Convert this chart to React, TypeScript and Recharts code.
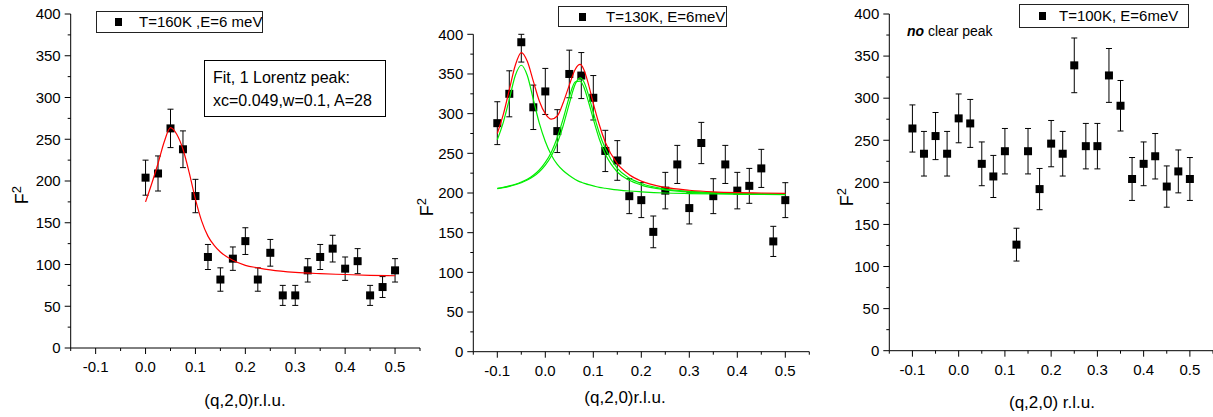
import { ComposedChart, Scatter, ErrorBar, XAxis, YAxis, Legend } from 'recharts';

const FONT = 'Arial, "Liberation Sans", Helvetica, sans-serif';

// T=160K, E=6 meV
const q160 = [0, 0.025, 0.05, 0.075, 0.1, 0.125, 0.15, 0.175, 0.2, 0.225, 0.25, 0.275, 0.3, 0.325, 0.35, 0.375, 0.4, 0.425, 0.45, 0.475, 0.5];
const f160 = [204, 209, 263, 238, 182, 109, 82, 107, 128, 82, 114, 63, 63, 93, 109, 119, 95, 104, 63, 73, 93];
const err160 = [21, 21, 23, 22, 20, 15, 14, 14, 16, 14, 16, 12, 12, 14, 15, 16, 14, 15, 12, 12.5, 14];
const fitQ160 = [0, 0.0125, 0.025, 0.0375, 0.05, 0.0625, 0.075, 0.0875, 0.1, 0.1125, 0.125, 0.1375, 0.15, 0.175, 0.2, 0.225, 0.25, 0.3, 0.35, 0.4, 0.45, 0.5];
const fit160 = [175, 197, 221, 247, 264, 256, 238, 210, 178, 152, 134, 123, 115, 105, 99, 96, 93.5, 90.5, 89, 88, 87, 86.5];

// T=130K, E=6meV
const q130 = [-0.1, -0.075, -0.05, -0.025, 0, 0.025, 0.05, 0.075, 0.1, 0.125, 0.15, 0.175, 0.2, 0.225, 0.25, 0.275, 0.3, 0.325, 0.35, 0.375, 0.4, 0.425, 0.45, 0.475, 0.5];
const f130 = [288, 325, 390, 308, 328, 278, 350, 348, 320, 253, 241, 196, 191, 151, 203, 236, 181, 263, 196, 236, 203, 209, 231, 139, 191];
const err130: (number | [number, number])[] = [27, 29, [25, 10], 28, 29, 27, 30, 29, 28, 26, 25, 22, 22, 20, 23, 24, 20, 26, 22, 24, 23, 22, 24, 19, 22];
const fitQ130 = [-0.1, -0.0875, -0.075, -0.0625, -0.05, -0.0375, -0.025, -0.0125, 0, 0.0125, 0.025, 0.0375, 0.05, 0.0625, 0.0725, 0.08, 0.09, 0.1, 0.1125, 0.125, 0.15, 0.175, 0.2, 0.25, 0.3, 0.35, 0.4, 0.45, 0.5];
const fitSum130 = [275, 299, 330, 361, 377, 366, 341, 316, 300, 293, 297, 314, 336, 356, 362, 356, 337, 313, 286, 264, 237, 223, 215, 207, 203.5, 201.5, 200.5, 200, 199.5];
const peakA130 = [267, 289, 318, 348, 361, 348, 318, 288, 265, 248, 236, 228, 222, 217, 214, 212.5, 210.5, 209, 207, 206, 204, 202.5, 201.5, 200, 199.3, 198.8, 198.4, 198.1, 198];
const peakB130 = [205.5, 206.8, 208.4, 210.4, 213, 216.3, 220.7, 226.7, 235, 246.6, 263, 285.4, 312.7, 337.3, 345, 340.5, 323.6, 301.4, 275.6, 256, 231, 218.8, 212, 205, 202, 200.4, 199.5, 198.9, 198.5];
const peakB2130 = [205.8, 207.2, 208.9, 211, 213.8, 217.4, 222.3, 229, 238.5, 251.5, 270, 294, 321, 340, 341, 334, 315, 293, 268, 249, 226.5, 216, 210, 204, 201.2, 199.8, 199, 198.5, 198.2];

// T=100K, E=6meV
const q100 = [-0.1, -0.075, -0.05, -0.025, 0, 0.025, 0.05, 0.075, 0.1, 0.125, 0.15, 0.175, 0.2, 0.225, 0.25, 0.275, 0.3, 0.325, 0.35, 0.375, 0.4, 0.425, 0.45, 0.475, 0.5];
const f100 = [264, 234, 255, 234, 276, 270, 222, 207, 237, 126, 237, 192, 246, 234, 339, 243, 243, 327, 291, 204, 222, 231, 195, 213, 204];
const err100 = [28, 26.5, 28, 26.5, 29, 28.5, 26, 25, 27, 19.5, 27, 24.5, 27.5, 26.5, 32.5, 27, 27, 32, 30, 25.5, 26, 27, 24.5, 25.5, 25.5];

const xTicks = [-0.15, -0.1, -0.05, 0, 0.05, 0.1, 0.15, 0.2, 0.25, 0.3, 0.35, 0.4, 0.45, 0.5, 0.55];
const yTicks = [0, 25, 50, 75, 100, 125, 150, 175, 200, 225, 250, 275, 300, 325, 350, 375, 400];

const points = (q: number[], f: number[], e?: (number | [number, number])[]) =>
  q.map((x, i) => ({ x, y: f[i], e: e ? e[i] : 0 }));

const XTick = (props: any) => {
  const { x, y, payload } = props;
  const v = payload.value as number;
  const major = Math.abs(Math.round(v * 100)) % 10 === 0;
  return (
    <g>
      <line x1={x} x2={x} y1={y} y2={y + (major ? 6 : 3)} stroke="#000" />
      {major && (
        <text x={x} y={y + 19} dy="0.35em" textAnchor="middle" fontSize={15} fill="#000" fontFamily={FONT}>
          {v.toFixed(1)}
        </text>
      )}
    </g>
  );
};

const YTick = (props: any) => {
  const { x, y, payload } = props;
  const v = payload.value as number;
  const major = v % 50 === 0;
  return (
    <g>
      <line x1={x} x2={x - (major ? 6 : 3)} y1={y} y2={y} stroke="#000" />
      {major && (
        <text x={x - 10} y={y} dy="0.35em" textAnchor="end" fontSize={15} fill="#000" fontFamily={FONT}>
          {v}
        </text>
      )}
    </g>
  );
};

const Square = (props: any) => (
  <rect x={props.cx - 4} y={props.cy - 4} width={8} height={8} fill="#000" />
);
const NoDot = () => <g />;

type Curve = { q: number[]; f: number[]; color: string };
type PanelProps = {
  left: number;
  width: number;
  plot: { l: number; t: number; r: number; b: number };
  data: { x: number; y: number; e: any }[];
  curves: Curve[];
  label: string;
  legend: { l: number; t: number; w: number; h: number; mark: number; text: number };
  xTitle: string;
  xTitlePos: [number, number];
  fPos: [number, number];
};

function Panel({ left, width, plot, data, curves, label, legend, xTitle, xTitlePos, fPos }: PanelProps) {
  const yw = 50;
  const xh = 30;
  return (
    <div style={{ position: 'absolute', left, top: 0 }}>
      <ComposedChart
        width={width}
        height={417}
        margin={{ top: plot.t, left: plot.l - left - yw, right: left + width - plot.r, bottom: 417 - plot.b - xh }}
      >
        <XAxis
          type="number"
          dataKey="x"
          domain={[-0.15, 0.55]}
          ticks={xTicks}
          interval={0}
          tick={<XTick />}
          tickSize={0}
          tickMargin={0}
          tickLine={false}
          height={xh}
          stroke="#000"
          label={() => (
            <text x={xTitlePos[0]} y={xTitlePos[1]} dy="0.35em" textAnchor="middle" fontSize={17} fill="#000" fontFamily={FONT}>
              {xTitle}
            </text>
          )}
        />
        <YAxis
          type="number"
          dataKey="y"
          domain={[0, 400]}
          ticks={yTicks}
          interval={0}
          tick={<YTick />}
          tickSize={0}
          tickMargin={0}
          tickLine={false}
          width={yw}
          stroke="#000"
          label={() => (
            <text
              transform={`rotate(-90, ${fPos[0]}, ${fPos[1]})`}
              x={fPos[0]}
              y={fPos[1]}
              textAnchor="middle"
              fontSize={18}
              fill="#000"
              fontFamily={FONT}
            >
              F<tspan dy={-7} fontSize={13}>2</tspan>
            </text>
          )}
        />
        <Legend
          layout="horizontal"
          verticalAlign="middle"
          align="center"
          wrapperStyle={{ left: legend.l - left, top: legend.t, width: legend.w, height: legend.h }}
          content={() => (
            <div
              style={{
                position: 'relative',
                boxSizing: 'border-box',
                width: legend.w,
                height: legend.h,
                border: '1px solid #222',
                background: '#fff',
                fontFamily: FONT,
                fontSize: 15,
                color: '#000',
              }}
            >
              <div style={{ position: 'absolute', left: legend.mark - 4, top: legend.h / 2 - 5, width: 7, height: 8, background: '#000' }} />
              <div style={{ position: 'absolute', left: legend.text, top: 0, lineHeight: `${legend.h - 2}px`, whiteSpace: 'nowrap' }}>
                {label}
              </div>
            </div>
          )}
        />
        <Scatter data={data} shape={Square} isAnimationActive={false}>
          <ErrorBar dataKey="e" direction="y" width={3} stroke="#000" strokeWidth={1} isAnimationActive={false} />
        </Scatter>
        {curves.map((c, i) => (
          <Scatter
            key={i}
            data={points(c.q, c.f)}
            shape={NoDot}
            line={{ stroke: c.color, strokeWidth: 1.2 }}
            lineType="joint"
            lineJointType="monotoneX"
            isAnimationActive={false}
          />
        ))}
      </ComposedChart>
    </div>
  );
}

export default function App() {
  return (
    <div style={{ position: 'absolute', left: 0, top: 0, width: 1213, height: 417, background: '#fff', overflow: 'hidden' }}>
      <Panel
        left={0}
        width={440}
        plot={{ l: 70.7, t: 14, r: 420, b: 348 }}
        data={points(q160, f160, err160)}
        curves={[{ q: fitQ160, f: fit160, color: '#ff0000' }]}
        label="T=160K ,E=6 meV"
        legend={{ l: 96, t: 11, w: 167, h: 22, mark: 22, text: 42 }}
        xTitle="(q,2,0)r.l.u."
        xTitlePos={[245, 400]}
        fPos={[28, 195]}
      />
      <Panel
        left={405}
        width={415}
        plot={{ l: 473.3, t: 34.3, r: 809.3, b: 351.7 }}
        data={points(q130, f130, err130)}
        curves={[
          { q: fitQ130, f: peakA130, color: '#00ee00' },
          { q: fitQ130, f: peakB130, color: '#00ee00' },
          { q: fitQ130, f: peakB2130, color: '#00ee00' },
          { q: fitQ130, f: fitSum130, color: '#ff0000' },
        ]}
        label="T=130K, E=6meV"
        legend={{ l: 558, t: 6, w: 169, h: 21, mark: 24, text: 47 }}
        xTitle="(q,2,0)r.l.u."
        xTitlePos={[220, 397]}
        fPos={[28, 207]}
      />
      <Panel
        left={830}
        width={383}
        plot={{ l: 889.3, t: 14, r: 1213, b: 350.7 }}
        data={points(q100, f100, err100)}
        curves={[]}
        label="T=100K, E=6meV"
        legend={{ l: 1019, t: 4, w: 170, h: 24, mark: 23, text: 39 }}
        xTitle="(q,2,0) r.l.u."
        xTitlePos={[222, 402]}
        fPos={[23, 197]}
      />
      <svg width={1213} height={417} style={{ position: 'absolute', left: 0, top: 0, pointerEvents: 'none' }}>
        <rect x={204.5} y={60.5} width={181} height={56} fill="#fff" stroke="#000" />
        <text x={213} y={83} fontSize={16} fontFamily={FONT} fill="#000">Fit, 1 Lorentz peak:</text>
        <text x={213} y={106} fontSize={16} fontFamily={FONT} fill="#000">xc=0.049,w=0.1, A=28</text>
        <text x={907} y={36} fontSize={14} fontFamily={FONT} fill="#000">
          <tspan fontWeight="bold" fontStyle="italic">no</tspan> clear peak
        </text>
      </svg>
    </div>
  );
}
